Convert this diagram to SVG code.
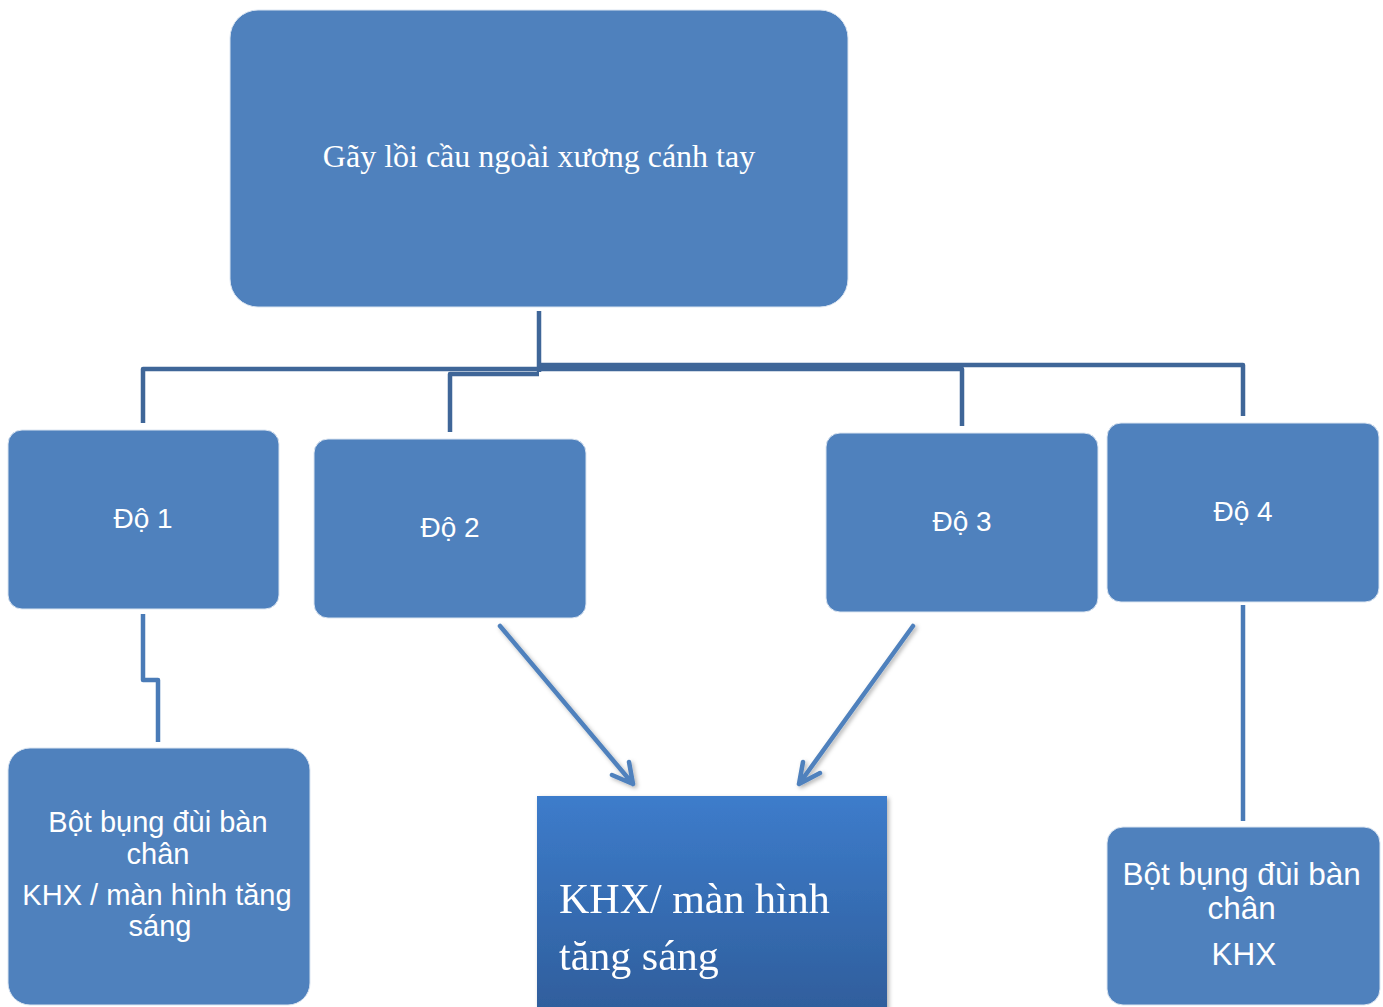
<svg xmlns="http://www.w3.org/2000/svg" width="1383" height="1007" viewBox="0 0 1383 1007">
  <style>
    .box { fill: #4f81bd; stroke: #dbe5f1; stroke-width: 1; }
    .sans { font-family: "Liberation Sans", Arial, sans-serif; fill: #ffffff; text-anchor: middle; }
    .serif { font-family: "Liberation Serif", "Times New Roman", serif; fill: #ffffff; }
    .tree { fill: none; stroke: #3f6698; stroke-width: 4.5; stroke-linejoin: round; }
    .link { fill: none; stroke: #4a7bb7; stroke-width: 4.5; stroke-linejoin: round; }
    .arrow { fill: none; stroke: #4f81bd; stroke-width: 4.5; stroke-linecap: round; stroke-linejoin: round; }
  </style>
  <defs>
    <linearGradient id="resultFill" x1="0" y1="0" x2="0" y2="1">
      <stop offset="0" stop-color="#3d7ccb"/>
      <stop offset="1" stop-color="#2f5e9c"/>
    </linearGradient>
    <filter id="softShadow" x="-10%" y="-10%" width="130%" height="130%">
      <feDropShadow dx="2" dy="2" stdDeviation="2" flood-color="#000000" flood-opacity="0.3"/>
    </filter>
  </defs>

  <rect width="1383" height="1007" fill="#ffffff"/>

  <!-- connectors -->
  <g id="connectors">
    <path class="tree" d="M539 311 V372"/>
    <path class="tree" d="M539 369 H143 V423"/>
    <path class="tree" d="M539 374 H450 V432"/>
    <path class="tree" d="M539 369 H962 V426"/>
    <path class="tree" d="M539 365 H1243 V416"/>
    <path class="link" d="M143 614 V680 H158 V742"/>
    <path class="link" d="M1243 605 V821"/>
    <g filter="url(#softShadow)">
      <path class="arrow" d="M500 626 L633 784 M612 775 L633 784 L629 762"/>
      <path class="arrow" d="M913 626 L799 784 M820 773 L799 784 L803 762"/>
    </g>
  </g>

  <!-- root -->
  <g id="root">
    <rect class="box" x="230" y="10" width="618" height="297" rx="28"/>
    <text class="serif" x="539" y="167" font-size="32" text-anchor="middle">Gãy lồi cầu ngoài xương cánh tay</text>
  </g>

  <!-- grades -->
  <g id="grade1">
    <rect class="box" x="8" y="430" width="271" height="179" rx="14"/>
    <text class="sans" x="143" y="528" font-size="28">Độ 1</text>
  </g>
  <g id="grade2">
    <rect class="box" x="314" y="439" width="272" height="179" rx="14"/>
    <text class="sans" x="450" y="537" font-size="28">Độ 2</text>
  </g>
  <g id="grade3">
    <rect class="box" x="826" y="433" width="272" height="179" rx="14"/>
    <text class="sans" x="962" y="531" font-size="28">Độ 3</text>
  </g>
  <g id="grade4">
    <rect class="box" x="1107" y="423" width="272" height="179" rx="14"/>
    <text class="sans" x="1243" y="521" font-size="28">Độ 4</text>
  </g>

  <!-- treatments -->
  <g id="treat-grade1">
    <rect class="box" x="8" y="748" width="302" height="257" rx="22"/>
    <text class="sans" font-size="29">
      <tspan x="162" y="832">Bột bụng đùi bàn</tspan>
      <tspan x="162" y="864">chân</tspan>
      <tspan x="161" y="905">KHX / màn hình tăng</tspan>
      <tspan x="160" y="936">sáng</tspan>
    </text>
  </g>
  <g id="treat-grade23" filter="url(#softShadow)">
    <rect x="537" y="796" width="350" height="215" fill="url(#resultFill)"/>
    <text class="serif" font-size="42">
      <tspan x="559" y="913">KHX/ màn hình</tspan>
      <tspan x="559" y="970">tăng sáng</tspan>
    </text>
  </g>
  <g id="treat-grade4">
    <rect class="box" x="1107" y="827" width="273" height="178" rx="16"/>
    <text class="sans" font-size="31.5">
      <tspan x="1246" y="885">Bột bụng đùi bàn</tspan>
      <tspan x="1246" y="919">chân</tspan>
      <tspan x="1244" y="965">KHX</tspan>
    </text>
  </g>
</svg>
